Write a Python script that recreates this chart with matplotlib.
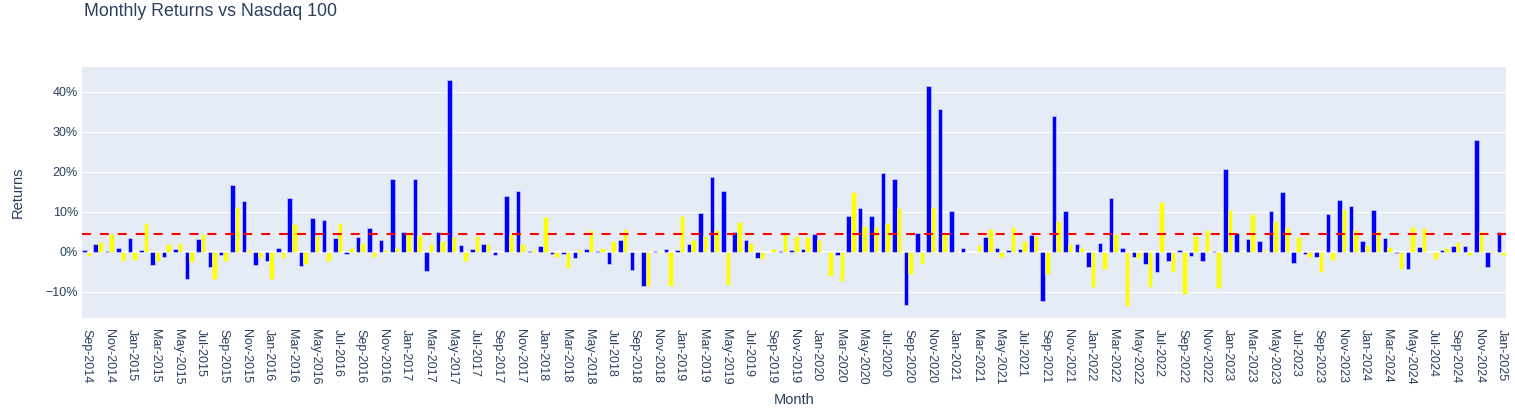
import numpy as np
import pandas as pd
import matplotlib
matplotlib.use("Agg")
import matplotlib.pyplot as plt

# Месячные доходности (%), Sep-2014 .. Jan-2025
months = pd.date_range("2014-09-01", "2025-01-01", freq="MS")

stock_returns = [
    0.3, 1.8, 0.1, 0.9, 3.5, 0.3, -3.4, -1.25, 0.6, -6.8, 3.2, -3.8, -0.8, 16.7, 12.75, -3.3,
    -2.4, 1.0, 13.5, -3.6, 8.5, 7.9, 3.5, -0.7, 3.7, 5.8, 3.0, 18.25, 4.8, 18.25, -4.8, 4.8,
    42.9, 1.7, 0.7, 2.0, -0.9, 13.8, 15.1, 0.1, 1.3, -0.5, -0.7, -1.5, 0.7, 0.1, -3.2, 3.0,
    -4.6, -8.5, 0.1, 0.7, 0.5, 2.0, 9.75, 18.75, 15.2, 5.0, 2.9, -1.6, -0.1, 0.2, 0.4, 0.7,
    4.3, -0.2, -0.8, 9.0, 11.0, 8.9, 19.6, 18.25, -13.4, 4.6, 41.4, 35.8, 10.2, 0.8, -0.1, 3.75,
    0.8, 0.4, 0.7, 4.2, -12.3, 34.0, 10.25, 1.9, -3.75, 2.25, 13.4, 0.9, -1.3, -3.2, -5.2, -2.25,
    0.3, -1.0, -2.4, 0.2, 20.6, 4.75, 3.25, 2.7, 10.1, 14.9, -2.9, -0.6, -1.4, 9.5, 12.9, 11.5,
    2.7, 10.4, 3.3, -0.3, -4.3, 1.2, -0.1, 0.3, 1.4, 1.4, 27.9, -3.75, 5.0,
]

nasdaq_returns = [
    -1.2, 2.5, 4.5, -2.3, -2.1, 7.2, -2.4, 1.9, 2.2, -2.5, 4.5, -6.9, -2.3, 11.25, 0.5, -1.7,
    -6.9, -1.5, 6.8, -3.2, 4.0, -2.25, 7.1, 1.0, 2.2, -1.4, 0.4, 1.0, 5.0, 4.25, 2.0, 2.7,
    3.75, -2.4, 4.0, 2.0, -0.1, 4.5, 1.9, 0.4, 8.7, -1.3, -4.1, 0.4, 5.5, 1.0, 2.7, 5.6,
    -0.2, -8.6, -0.3, -8.7, 8.9, 2.9, 3.8, 5.4, -8.25, 7.5, 2.2, -1.8, 0.7, 4.4, 4.0, 3.75,
    3.0, -6.1, -7.25, 14.9, 6.5, 6.25, 7.25, 10.9, -5.7, -3.0, 11.2, 4.75, 0.2, -0.2, 1.7, 5.75,
    -1.25, 6.25, 2.7, 4.0, -5.7, 7.75, 1.9, 1.0, -8.8, -4.4, 4.5, -13.7, -1.7, -8.8, 12.4, -5.2,
    -10.5, 3.9, 5.4, -9.0, 10.5, -0.3, 9.4, 0.4, 7.7, 6.2, 3.6, -1.4, -5.1, -2.1, 10.7, 5.5,
    1.75, 5.1, 1.2, -4.4, 6.25, 6.0, -1.75, 0.9, 2.3, -0.9, 5.2, 0.2, -0.75,
]

avg_return = 4.4

tick_labels = [m.strftime("%b-%Y") for m in months]

# Оформление в стиле plotly
plt.rcParams["font.family"] = ["Liberation Sans", "DejaVu Sans"]
text_color = "#2a3f5f"
bg_color = "#E5ECF6"

fig = plt.figure(figsize=(15.15, 4.16), dpi=100)
ax = fig.add_axes([82 / 1515, 1 - 318 / 416, 1424 / 1515, 251 / 416])
ax.set_facecolor(bg_color)

x = np.arange(len(months))
w = 0.4
ax.bar(x - w / 2, stock_returns, width=w, color="blue", edgecolor=bg_color, linewidth=0.36, zorder=3)
ax.bar(x + w / 2, nasdaq_returns, width=w, color="yellow", edgecolor=bg_color, linewidth=0.36, zorder=3)

ax.axhline(avg_return, color="red", linewidth=1.5, dashes=(4.3, 4.3), zorder=4)
ax.axhline(0, color="white", linewidth=1.5, zorder=2)

ax.set_xlim(-0.4, len(months) - 0.6)
ax.set_ylim(-16.6, 46.2)

ax.set_yticks([-10, 0, 10, 20, 30, 40])
ax.set_yticklabels(["−10%", "0%", "10%", "20%", "30%", "40%"])
ax.grid(axis="y", color="white", linewidth=0.75, zorder=1)
ax.set_axisbelow(True)

ax.set_xticks(x[::2])
ax.set_xticklabels(tick_labels[::2], rotation=-90, va="top", ha="center")

ax.tick_params(axis="both", length=0, colors=text_color, labelsize=9)
ax.tick_params(axis="x", pad=8)
ax.tick_params(axis="y", pad=3)
for s in ax.spines.values():
    s.set_visible(False)

ax.set_xlabel("Month", color=text_color, fontsize=10.5)
ax.xaxis.set_label_coords(0.5, (318 - 393) / 251)
ax.set_ylabel("Returns", color=text_color, fontsize=10.5)
ax.yaxis.set_label_coords((25 - 82) / 1424, 0.5)

fig.text(84 / 1515, 1 - 12 / 416, "Monthly Returns vs Nasdaq 100", color=text_color,
         fontsize=12.75, ha="left", va="center")

fig.savefig("out.png", dpi=100, facecolor="white")
